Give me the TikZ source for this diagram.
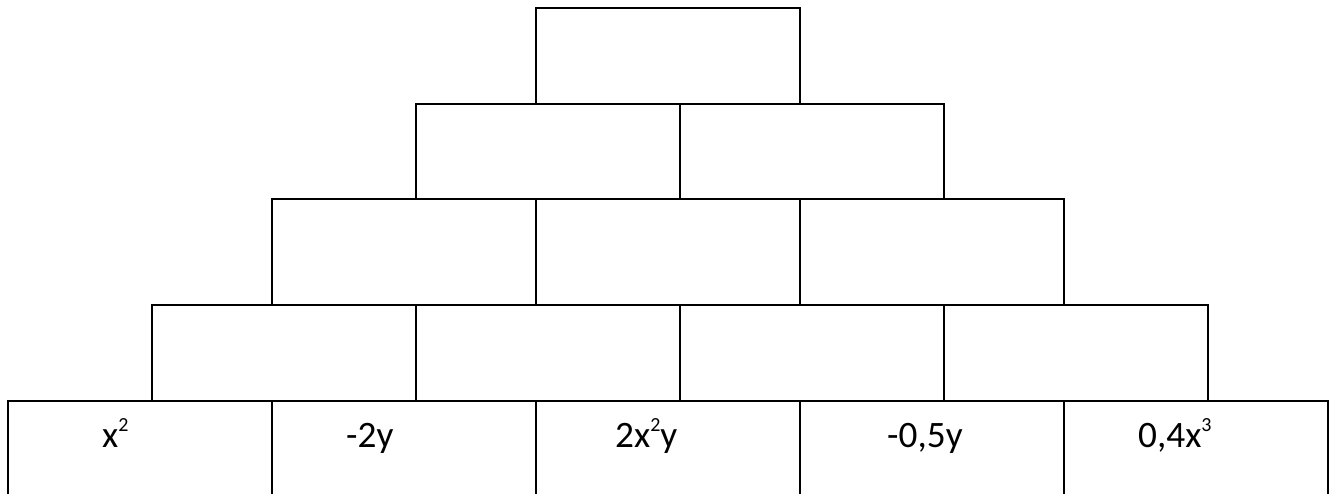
\documentclass[tikz,border=0pt]{standalone}
\usepackage{fontspec}
\setmainfont{Carlito}
\newcommand\supnum[1]{\raisebox{16pt}{\fontsize{20}{22}\selectfont #1}}
\tikzset{
  brick/.style={draw=black, line width=1.8pt, rectangle, inner sep=0pt,
    minimum width=264pt, minimum height=96pt, anchor=north west},
  term/.style={anchor=base west, inner sep=0pt, font=\fontsize{37.3}{44}\selectfont}
}
\begin{document}
\begin{tikzpicture}[x=1pt,y=-1pt]
\useasboundingbox (0,0) rectangle (1329,493);
\clip (0,0) rectangle (1329,493);
\fill[white] (0,0) rectangle (1329,493);
% row 1
\node[brick] (r1a) at (535,7) {};
% row 2
\node[brick, minimum height=95pt] (r2a) at (415,103) {};
\node[brick, minimum height=95pt] (r2b) at (679,103) {};
% row 3
\node[brick, minimum height=106pt] (r3a) at (271,198) {};
\node[brick, minimum height=106pt] (r3b) at (535,198) {};
\node[brick, minimum height=106pt] (r3c) at (799,198) {};
% row 4
\node[brick] (r4a) at (151,304) {};
\node[brick] (r4b) at (415,304) {};
\node[brick] (r4c) at (679,304) {};
\node[brick] (r4d) at (943,304) {};
% row 5
\node[brick, minimum height=130pt] (r5a) at (7,400) {};
\node[brick, minimum height=130pt] (r5b) at (271,400) {};
\node[brick, minimum height=130pt] (r5c) at (535,400) {};
\node[brick, minimum height=130pt] (r5d) at (799,400) {};
\node[brick, minimum height=130pt] (r5e) at (1063,400) {};
% terms
\node[term] (t1) at (102,447) {x\supnum{2}};
\node[term] (t2) at (346,447) {-2y};
\node[term] (t3) at (615,447) {2x\supnum{2}y};
\node[term] (t4) at (887,447) {-0,5y};
\node[term] (t5) at (1138,447) {0,4x\supnum{3}};
\end{tikzpicture}
\end{document}
